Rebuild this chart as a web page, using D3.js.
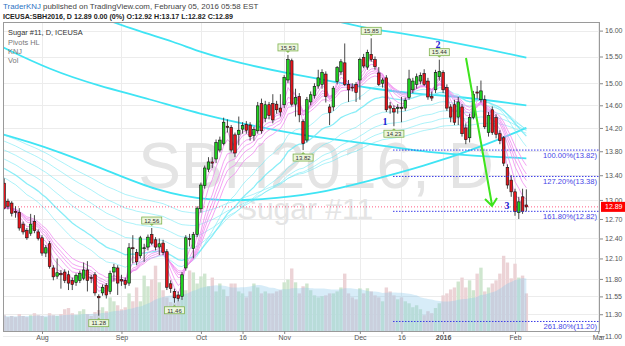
<!DOCTYPE html>
<html>
<head>
<meta charset="utf-8">
<script src="https://cdn.jsdelivr.net/npm/d3@7"></script>
<style>
  body { margin: 0; background: #fff; }
  svg { display: block; font-family: "Liberation Sans", Arial, sans-serif; }
</style>
</head>
<body>
<svg id="chart" width="625" height="346"></svg>
<script>
// daily bars, 20 Jul 2015 .. 04 Feb 2016 (index = trading day)
const opens = [13.27,12.98,12.95,12.82,12.80,12.62,12.52,12.48,12.66,12.50,
  12.41,12.18,12.32,11.96,11.84,11.88,11.90,11.86,11.78,11.75,
  11.78,11.81,11.93,11.82,11.86,11.55,11.60,11.71,11.62,11.90,
  11.96,11.79,11.78,11.74,12.26,12.19,12.14,12.25,12.27,12.46,
  12.38,12.27,12.33,12.20,11.73,11.62,11.57,11.55,11.96,12.40,
  12.25,12.46,12.86,13.23,13.50,13.62,13.67,13.82,13.93,14.23,
  14.21,14.08,14.09,14.18,14.26,14.25,14.07,14.15,14.63,14.37,
  14.61,14.63,14.62,14.55,14.61,15.06,15.42,14.62,14.76,14.31,
  13.99,14.66,14.78,14.95,14.98,15.17,14.57,14.57,15.03,15.21,
  15.38,14.98,14.93,14.98,15.06,15.48,15.30,15.54,15.44,15.19,
  15.00,15.10,14.59,14.54,14.55,14.56,14.55,14.74,14.88,14.98,
  15.04,15.18,15.04,14.76,14.88,15.12,15.20,14.92,14.57,14.61,
  14.39,14.57,14.20,14.03,14.38,14.84,14.70,14.70,14.12,14.52,
  14.38,14.10,14.03,13.53,13.32,13.13,12.80,13.05,12.92]
const highs = [13.35,13.02,12.98,12.90,12.87,12.66,12.56,12.78,12.76,12.54,
  12.45,12.30,12.36,12.00,12.10,11.93,11.94,11.92,11.82,11.88,
  11.92,12.04,12.06,11.86,11.90,11.58,11.72,11.74,11.92,12.02,
  12.00,11.86,11.82,12.33,12.45,12.24,12.44,12.32,12.46,12.56,
  12.42,12.40,12.38,12.24,11.78,11.66,11.62,11.90,12.45,12.47,
  12.50,12.90,13.28,13.56,13.70,13.70,14.00,14.05,14.38,14.35,
  14.25,14.12,14.40,14.30,14.32,14.30,14.22,14.66,14.72,14.68,
  14.66,14.80,14.68,14.80,15.15,15.53,15.46,14.90,14.82,14.35,
  14.75,14.85,15.00,15.25,15.26,15.22,14.62,14.95,15.32,15.45,
  15.75,15.06,15.00,15.02,15.48,15.55,15.63,15.85,15.50,15.30,
  15.10,15.15,14.66,14.60,14.62,14.75,14.74,15.25,15.10,15.18,
  15.20,15.26,15.10,14.85,15.25,15.44,15.24,14.98,14.62,14.70,
  14.75,14.62,14.28,14.45,14.86,14.95,15.05,14.78,14.48,14.58,
  14.44,14.16,14.06,13.58,13.40,13.18,13.05,13.18,13.17]
const lows = [12.85,12.85,12.74,12.72,12.52,12.46,12.38,12.44,12.48,12.37,
  12.14,12.12,11.95,11.78,11.80,11.66,11.74,11.64,11.64,11.70,
  11.74,11.78,11.62,11.74,11.56,11.28,11.56,11.52,11.58,11.76,
  11.57,11.70,11.66,11.70,12.03,12.00,12.10,12.05,12.22,12.30,
  12.22,12.15,12.15,11.64,11.60,11.46,11.48,11.50,11.92,12.28,
  12.10,12.42,12.80,13.18,13.45,13.52,13.60,13.78,13.90,14.12,
  13.78,13.70,13.90,14.10,14.10,13.98,13.98,14.10,14.10,14.30,
  14.35,14.28,14.45,14.40,14.55,15.00,14.58,14.40,14.30,13.82,
  13.95,14.60,14.72,14.90,14.90,14.65,14.25,14.50,14.98,15.15,
  14.95,14.66,14.85,14.66,14.70,15.28,15.25,15.40,15.25,14.95,
  14.92,14.48,14.45,14.23,14.45,14.30,14.50,14.70,14.82,14.90,
  14.98,14.95,14.70,14.68,14.82,15.05,14.82,14.50,14.30,14.25,
  14.25,14.05,13.92,13.95,14.35,14.72,14.65,14.18,14.05,14.08,
  14.02,13.92,13.55,13.18,13.05,12.75,12.70,12.78,12.82]
const closes = [12.87,12.90,12.79,12.80,12.56,12.50,12.41,12.62,12.52,12.40,
  12.18,12.26,11.98,11.83,11.89,11.86,11.78,11.74,11.72,11.85,
  11.88,11.93,11.78,11.81,11.60,11.53,11.68,11.57,11.88,11.97,
  11.74,11.77,11.72,12.26,12.25,12.05,12.41,12.26,12.42,12.33,
  12.27,12.32,12.19,11.68,11.66,11.53,11.52,11.86,12.41,12.39,
  12.46,12.87,13.24,13.52,13.62,13.60,13.95,13.99,14.30,14.21,
  13.82,13.77,14.16,14.24,14.16,14.05,14.17,14.59,14.15,14.61,
  14.42,14.34,14.52,14.48,15.11,15.44,14.62,14.74,14.43,13.93,
  14.70,14.79,14.94,15.10,15.20,14.76,14.47,14.91,15.29,15.40,
  14.98,14.88,14.92,14.83,15.44,15.32,15.58,15.44,15.31,14.98,
  15.06,14.52,14.55,14.48,14.56,14.55,14.69,15.08,15.04,15.12,
  15.14,14.98,14.75,14.73,15.20,15.22,14.88,14.55,14.39,14.30,
  14.66,14.10,14.00,14.38,14.80,14.82,14.86,14.22,14.42,14.12,
  14.09,13.98,13.60,13.24,13.13,12.82,12.97,12.82,12.89]
// volume, thousand contracts
const volumes = [40,35,38,35,43,38,35,40,45,40,
  38,35,45,40,38,43,55,58,45,40,
  50,55,43,38,48,53,60,50,85,75,
  65,55,60,95,75,110,75,140,113,130,
  165,123,103,85,73,70,75,85,103,153,
  148,120,138,145,113,135,100,120,105,88,
  120,120,100,95,85,100,120,110,95,100,
  95,95,100,103,123,130,158,123,95,113,
  120,103,90,85,88,90,95,95,100,110,
  145,95,85,80,108,95,108,100,90,85,
  75,110,100,90,80,85,75,70,60,65,
  55,40,50,45,58,70,90,95,105,110,
  125,135,110,128,103,145,160,100,110,120,
  128,145,190,173,133,170,135,140,95]

// pivot labels
const pivots = [
  {i: 25, v: 11.28, hi: false}, {i: 39, v: 12.56, hi: true},
  {i: 45, v: 11.46, hi: false}, {i: 75, v: 15.53, hi: true},
  {i: 79, v: 13.82, hi: false}, {i: 97, v: 15.85, hi: true},
  {i: 103, v: 14.23, hi: false}, {i: 115, v: 15.44, hi: true}
]
// KNJ slow averages [bar, price]
const lineT = [[82,16.3],[95,16.05],[105,15.95],[115,15.82],[127,15.65],[138,15.48]]
const lineA = [[24,16.3],[35,16.0],[45,15.78],[52,15.58],[62,15.38],[75,15.18],[88,15.02],[99,14.88],[110,14.8],[120,14.76],[138,14.6]]
const lineB = [[-1,15.7],[12,15.25],[25,14.95],[38,14.72],[54,14.4],[70,14.18],[84,14.02],[100,13.9],[112,13.78],[125,13.72],[138,13.68]]
const lineC = [[-1,14.1],[7,13.95],[14,13.8],[28,13.46],[40,13.15],[54,12.98],[68,13.0],[83,13.1],[96,13.3],[111,13.55],[125,13.85],[138,14.2]]
// KNJ guppy groups: fast (pink) and slow (thin cyan) exponential averages of the closes
const fastPeriods = [3, 5, 8, 10, 12, 15]
const slowPeriods = [25, 35, 50, 65, 80, 100]
const slowStart = [13.4, 13.55, 13.7, 13.85, 14.0, 14.1]   // their values at the left edge
// Fibonacci extension levels
const fibPct = ["100.00%", "127.20%", "161.80%", "261.80%"]
const fibVal = [13.82, 13.38, 12.82, 11.20]
// axes
const priceTicks = [16.00, 15.50, 15.00, 14.60, 14.20, 13.80, 13.40, 13.00, 12.70, 12.40, 12.10, 11.80, 11.55, 11.30, 11.00]
const timeIdx = [10, 31, 52, 63, 74, 94, 105, 116, 135, 157]
const timeLabels = ["Aug", "Sep", "Oct", "16", "Nov", "Dec", "16", "2016", "Feb", "Mar"]
const lastPrice = 12.89

const svg = d3.select("#chart")
const L = 3, R = 600, T = 22, B = 331

const x = d3.scaleLinear().domain([0, 156]).range([4.16, 4.16 + 3.784 * 156])
const y = d3.scaleLog().domain([11.07, 16.17]).range([B, T])
const yVol = d3.scaleLinear().domain([0, 240]).range([B, B - 95])

svg.append("defs").append("clipPath").attr("id", "plot")
  .append("rect").attr("x", L).attr("y", T).attr("width", R - L).attr("height", B - T)

// header
const head = svg.append("text").attr("x", 3).attr("y", 9).attr("font-size", 7.9).attr("fill", "#444")
head.append("tspan").attr("fill", "#2e73c4").text("TraderKNJ")
head.append("tspan").text(" published on TradingView.com, February 05, 2016 05:58 EST")
svg.append("text").attr("x", 3).attr("y", 19).attr("font-size", 7.1).attr("font-weight", "bold").attr("fill", "#222")
  .text("ICEUSA:SBH2016, D  12.89 0.00 (0%) O:12.92 H:13.17 L:12.82 C:12.89")

// grid
const grid = svg.append("g").attr("stroke", "#ececec").attr("stroke-width", 1).attr("shape-rendering", "crispEdges")
grid.selectAll(".gx").data(timeIdx).join("line")
  .attr("x1", d => Math.round(x(d)) + 0.5).attr("x2", d => Math.round(x(d)) + 0.5).attr("y1", T).attr("y2", B)
grid.selectAll(".gy").data(priceTicks).join("line")
  .attr("x1", L).attr("x2", R).attr("y1", d => Math.round(y(d)) + 0.5).attr("y2", d => Math.round(y(d)) + 0.5)

const plot = svg.append("g").attr("clip-path", "url(#plot)")

// watermark
plot.append("text").attr("x", 316).attr("y", 188).attr("text-anchor", "middle")
  .attr("font-size", 64).attr("fill", "#e4e4e4").text("SBH2016, D")
plot.append("text").attr("x", 305).attr("y", 219).attr("text-anchor", "middle")
  .attr("font-size", 30).attr("fill", "#e4e4e4").text("Sugar #11")

// volume bars + average
const idx = d3.range(closes.length)
plot.append("g").selectAll("rect").data(idx).join("rect")
  .attr("x", i => x(i) - 1.7).attr("width", 3.4)
  .attr("y", i => yVol(volumes[i])).attr("height", i => B - yVol(volumes[i]))
  .attr("fill", i => closes[i] >= opens[i] ? "#cfe6cf" : "#ecd3d6")
const volMa = idx.map(i => d3.mean(volumes.slice(Math.max(0, i - 19), i + 1)))
plot.append("path").datum(idx)
  .attr("d", d3.area().x(i => x(i)).y0(B).y1(i => yVol(volMa[i])).curve(d3.curveMonotoneX))
  .attr("fill", "#8cc8ea").attr("fill-opacity", 0.35)

// exponential average of the closes
function ema(n, start) {
  const k = 2 / (n + 1)
  let e = start
  return closes.map(c => (e = c * k + e * (1 - k)))
}
const byBar = d3.line().x((d, i) => x(i)).y(d => y(d))

// KNJ slow averages
const lineGen = d3.line().x(d => x(d[0])).y(d => y(d[1])).curve(d3.curveBasis)
plot.selectAll(".thick").data([lineT, lineA, lineB, lineC]).join("path")
  .attr("d", lineGen).attr("fill", "none").attr("stroke", "#3fe4f4").attr("stroke-width", 1.8)
plot.selectAll(".slow").data(slowPeriods.map((n, k) => ema(n, slowStart[k]))).join("path")
  .attr("d", byBar).attr("fill", "none").attr("stroke", "#6ae8f5").attr("stroke-opacity", 0.8)
  .attr("stroke-width", (d, k) => k === 1 ? 1.3 : 0.7)

// fast ribbon
plot.selectAll(".rib").data(fastPeriods.map(n => ema(n, closes[0]))).join("path")
  .attr("d", byBar).attr("fill", "none").attr("stroke", "#f08cf0").attr("stroke-width", 0.8)

// last price line
plot.append("line").attr("x1", L).attr("x2", R).attr("y1", y(lastPrice)).attr("y2", y(lastPrice))
  .attr("stroke", "#f36").attr("stroke-width", 0.8).attr("stroke-dasharray", "1,2")

// candles
const candle = plot.append("g").selectAll("g").data(idx).join("g")
candle.append("line").attr("x1", i => x(i)).attr("x2", i => x(i))
  .attr("y1", i => y(highs[i])).attr("y2", i => y(lows[i])).attr("stroke", "#333").attr("stroke-width", 0.9)
candle.append("rect").attr("x", i => x(i) - 1.3).attr("width", 2.6)
  .attr("y", i => y(Math.max(opens[i], closes[i])))
  .attr("height", i => Math.max(1, Math.abs(y(opens[i]) - y(closes[i]))))
  .attr("fill", i => closes[i] >= opens[i] ? "#1fd21f" : "#e8141b")
  .attr("stroke", "#111").attr("stroke-width", 0.6)

// fibonacci levels
const fib = plot.append("g")
fib.selectAll("line").data(fibVal).join("line")
  .attr("x1", 393).attr("x2", R).attr("y1", d => y(d)).attr("y2", d => y(d))
  .attr("stroke", "#3a3ae8").attr("stroke-width", 1).attr("stroke-dasharray", "1.5,1.5")
fib.selectAll("text").data(fibVal).join("text")
  .attr("x", 597).attr("y", d => y(d) + 8).attr("text-anchor", "end")
  .attr("font-size", 7.6).attr("fill", "#4545e6").text((d, k) => fibPct[k] + "(" + d.toFixed(2) + ")")

// pivot labels
const pv = plot.append("g").selectAll("g").data(pivots).join("g")
  .attr("transform", d => `translate(${x(d.i)},${y(d.v) + (d.hi ? -2 : 2)})`)
pv.append("path").attr("d", d => d.hi ? "M-2,-2L0,0L2,-2" : "M-2,2L0,0L2,2").attr("fill", "#8bbd5a")
pv.append("rect").attr("x", -10).attr("y", d => d.hi ? -9 : 2).attr("width", 20).attr("height", 7)
  .attr("fill", "#ecf6dc").attr("stroke", "#7fb24e").attr("stroke-width", 0.8)
pv.append("text").attr("y", d => d.hi ? -3.2 : 7.8).attr("text-anchor", "middle")
  .attr("font-size", 6).attr("fill", "#333").text(d => d.v.toFixed(2))

// wave labels and arrow
const wave = plot.append("g").attr("font-family", "'Liberation Serif', serif").attr("font-weight", "bold")
  .attr("font-size", 10).attr("fill", "#2020d0").attr("text-anchor", "middle")
wave.append("text").attr("x", 385).attr("y", 125).text("1")
wave.append("text").attr("x", 438).attr("y", 48).text("2")
wave.append("text").attr("x", 507).attr("y", 209).text("3")
plot.append("path").attr("d", "M466,58L492,205M485,199L492,206L497,198")
  .attr("fill", "none").attr("stroke", "#3ee41c").attr("stroke-width", 2)

// legend
const leg = svg.append("g").attr("font-size", 7.4)
leg.append("text").attr("x", 8).attr("y", 35).attr("fill", "#333").text("Sugar #11, D, ICEUSA")
;["Pivots HL", "KNJ", "Vol"].forEach((t, k) =>
  leg.append("text").attr("x", 8).attr("y", 45 + k * 9).attr("fill", "#777").text(t))

// frame and axes
svg.append("rect").attr("x", L + 0.5).attr("y", T + 0.5).attr("width", R - L - 1).attr("height", B - T)
  .attr("fill", "none").attr("stroke", "#9a9a9a").attr("shape-rendering", "crispEdges")

const ay = svg.append("g").attr("transform", `translate(${R},0)`)
  .call(d3.axisRight(y).tickValues(priceTicks).tickFormat(d3.format(".2f")).tickSize(3).tickPadding(2))
ay.select(".domain").remove()
ay.selectAll("line").attr("stroke", "#888")
ay.selectAll("text").attr("font-size", 7).attr("fill", "#555").attr("font-family", "'Liberation Sans', Arial")

const ax = svg.append("g").attr("transform", `translate(0,${B})`)
  .call(d3.axisBottom(x).tickValues(timeIdx).tickFormat((d, k) => timeLabels[k]).tickSize(3).tickPadding(1))
ax.select(".domain").remove()
ax.selectAll("line").attr("stroke", "#888")
ax.selectAll("text").attr("font-size", 7).attr("fill", "#555").attr("font-family", "'Liberation Sans', Arial")
  .attr("font-weight", (d, k) => timeLabels[k] === "2016" ? "bold" : "normal")

// last price tag
const tag = svg.append("g").attr("transform", `translate(${R},${y(lastPrice)})`)
tag.append("rect").attr("x", 1).attr("y", -5).attr("width", 24).attr("height", 10).attr("fill", "#f00")
tag.append("text").attr("x", 5).attr("y", 2.6).attr("font-size", 7).attr("fill", "#fff").text(lastPrice.toFixed(2))
</script>
</body>
</html>
